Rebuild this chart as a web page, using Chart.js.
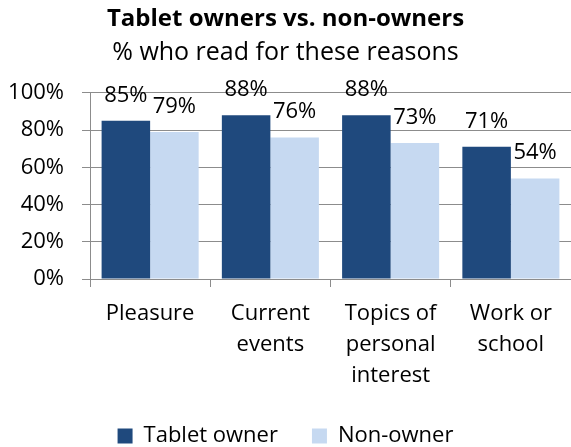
<!DOCTYPE html>
<html>
<head>
<meta charset="utf-8">
<script src="https://cdn.jsdelivr.net/npm/chart.js@4.4.1/dist/chart.umd.min.js"></script>
<style>
  html, body { margin: 0; padding: 0; background: #ffffff; }
  #wrap { width: 571px; height: 447px; }
</style>
</head>
<body>
<div id="wrap"><canvas id="reasons-chart"></canvas></div>
<script>
/**************************************************************
                 TABLET OWNERS VS NON-OWNERS
***************************************************************/
let reasonLabels = [["Pleasure"], ["Current", "events"], ["Topics of", "personal", "interest"], ["Work or", "school"]]
let tabletOwnerData = [85, 88, 88, 71]
let nonOwnerData = [79, 76, 73, 54]
let seriesNames = ["Tablet owner", "Non-owner"]
let seriesColors = ['#1F497D', '#C6D9F1']
let yTickValues = [0, 20, 40, 60, 80, 100]

let fontFamily = "'Open Sans', Lato, sans-serif"
let axisGray = '#8C8C8C'

/*** little plugin that writes the value above every bar ***/
let barValueLabels = {
    id: 'barValueLabels',
    afterDatasetsDraw(chart) {
        let ctx = chart.ctx
        ctx.save()
        ctx.font = '22px ' + fontFamily
        ctx.fillStyle = '#000000'
        ctx.textAlign = 'center'
        ctx.textBaseline = 'alphabetic'
        chart.data.datasets.forEach((dataset, i) => {
            chart.getDatasetMeta(i).data.forEach((bar, j) => {
                ctx.fillText(dataset.data[j] + '%', bar.x, bar.y - 19)
            })
        })
        ctx.restore()
    }
}

let reasonsChartCanvas = document.getElementById("reasons-chart").getContext('2d');
let reasonsChartConfig = {
    type: 'bar',
    data: {
        labels: reasonLabels,
        datasets: [{
            label: seriesNames[0],
            data: tabletOwnerData,
            backgroundColor: seriesColors[0]
        }, {
            label: seriesNames[1],
            data: nonOwnerData,
            backgroundColor: seriesColors[1]
        }]
    },
    options: {
        responsive: true,
        maintainAspectRatio: false,
        animation: false,
        layout: { padding: 0 },
        datasets: {
            bar: { categoryPercentage: 0.807, barPercentage: 1 }
        },
        scales: {
            x: {
                offset: true,
                grid: { offset: true, drawOnChartArea: false, drawTicks: true, tickLength: 8, color: axisGray },
                border: { display: true, color: axisGray },
                ticks: {
                    color: '#000000',
                    padding: 11,
                    maxRotation: 0,
                    font: { family: fontFamily, size: 22, lineHeight: 31 / 22 }
                },
                afterFit(scale) { scale.height = 112 }
            },
            y: {
                min: 0,
                max: 100,
                afterBuildTicks(scale) { scale.ticks = yTickValues.map(v => ({ value: v })) },
                grid: { color: axisGray, tickLength: 8 },
                border: { display: true, color: axisGray },
                ticks: {
                    color: '#000000',
                    padding: 18,
                    font: { family: fontFamily, size: 22 },
                    callback: value => value + '%'
                },
                afterFit(scale) { scale.width = 90 }
            }
        },
        plugins: {
            title: {
                display: true,
                text: 'Tablet owners vs. non-owners',
                color: '#000000',
                font: { family: fontFamily, size: 24, weight: 'bold' },
                padding: { top: 5, bottom: 0 }
            },
            subtitle: {
                display: true,
                text: '% who read for these reasons',
                color: '#000000',
                font: { family: fontFamily, size: 25 },
                padding: { top: 4, bottom: 25 }
            },
            legend: {
                position: 'bottom',
                maxHeight: 56,
                labels: {
                    color: '#000000',
                    boxWidth: 15,
                    boxHeight: 15,
                    padding: 34,
                    font: { family: fontFamily, size: 22 }
                }
            },
            tooltip: { enabled: false }
        }
    },
    plugins: [barValueLabels]
}

/*** Create the chart from the canvas and config ***/
let reasonsChart = new Chart(reasonsChartCanvas, reasonsChartConfig);
</script>
</body>
</html>
